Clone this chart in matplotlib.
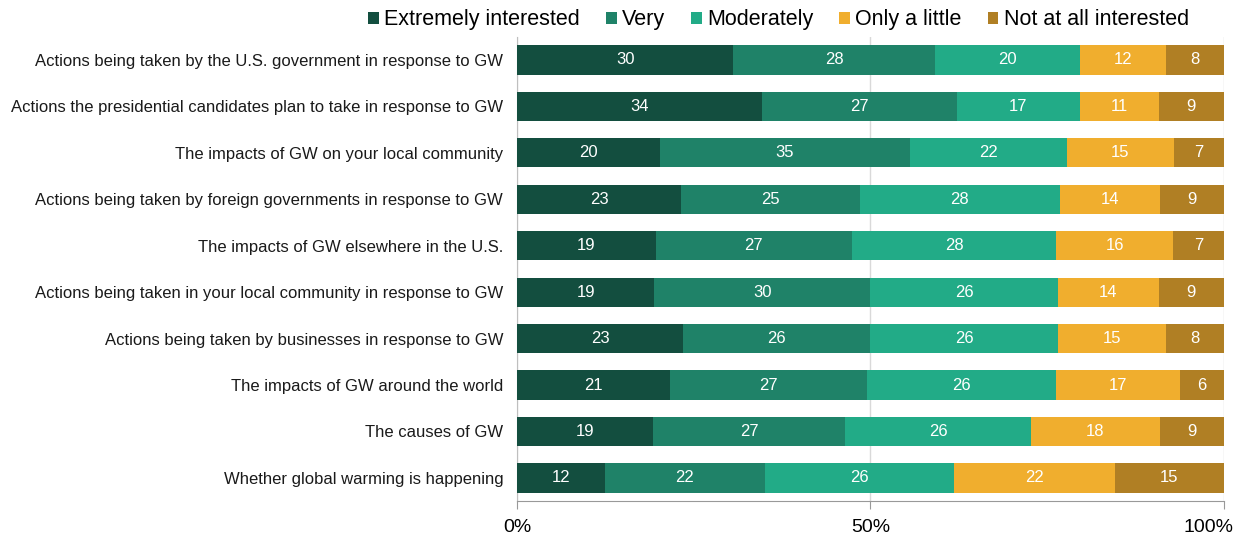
import numpy as np
import matplotlib.pyplot as plt
from matplotlib.transforms import ScaledTranslation

plt.rcParams['font.family'] = ['Liberation Sans', 'DejaVu Sans']

topics = [
    'Actions being taken by the U.S. government in response to GW',
    'Actions the presidential candidates plan to take in response to GW',
    'The impacts of GW on your local community',
    'Actions being taken by foreign governments in response to GW',
    'The impacts of GW elsewhere in the U.S.',
    'Actions being taken in your local community in response to GW',
    'Actions being taken by businesses in response to GW',
    'The impacts of GW around the world',
    'The causes of GW',
    'Whether global warming is happening',
]
levels = ['Extremely interested', 'Very', 'Moderately', 'Only a little', 'Not at all interested']

extremely = [30, 34, 20, 23, 19, 19, 23, 21, 19, 12]
very      = [28, 27, 35, 25, 27, 30, 26, 27, 27, 22]
moderate  = [20, 17, 22, 28, 28, 26, 26, 26, 26, 26]
little    = [12, 11, 15, 14, 16, 14, 15, 17, 18, 22]
not_at_all = [8, 9, 7, 9, 7, 9, 8, 6, 9, 15]

colors = ['#134e3f', '#1f8268', '#22ab87', '#f0ae2e', '#b07f24']

data = np.array([extremely, very, moderate, little, not_at_all], dtype=float)
shares = data / data.sum(axis=0)  # 100% stacked

fig = plt.figure(figsize=(12.4, 5.4), dpi=100)
ax = fig.add_axes([0.417, 0.072, 0.57, 0.86])

y = np.arange(len(topics))
left = np.zeros(len(topics))
for i in range(len(levels)):
    ax.barh(y, shares[i], left=left, height=0.63, color=colors[i], label=levels[i], zorder=3)
    for j in range(len(topics)):
        ax.text(left[j] + shares[i][j] / 2, y[j], str(int(data[i][j])),
                ha='center', va='center', color='white', fontsize=12, zorder=4)
    left += shares[i]

ax.set_ylim(len(topics) - 0.5, -0.5)
ax.set_xlim(0, 1)
ax.set_yticks(y)
ax.set_yticklabels(topics, fontsize=12, color='#1a1a1a')
ax.tick_params(axis='y', length=0, pad=10)
ax.set_xticks([0, 0.5, 1])
ax.set_xticklabels(['0%', '50%', '100%'], fontsize=14)
ax.tick_params(axis='x', length=6, color='#999999', pad=7)
# keep the 100% label inside the figure
last = ax.get_xticklabels()[-1]
last.set_ha('right')
last.set_transform(last.get_transform() + ScaledTranslation(0.1, 0, fig.dpi_scale_trans))
ax.grid(axis='x', color='#d9d9d9', linewidth=1, zorder=0)

for s in ['top', 'right']:
    ax.spines[s].set_visible(False)
ax.spines['left'].set_color('#bfbfbf')
ax.spines['bottom'].set_color('#999999')

ax.legend(loc='lower center', bbox_to_anchor=(0.37, 0.995), ncol=5, frameon=False,
          fontsize=15.5, handlelength=0.5, handleheight=0.5, handletextpad=0.25,
          columnspacing=1.2, borderaxespad=0)

fig.savefig('out.png', dpi=100)
